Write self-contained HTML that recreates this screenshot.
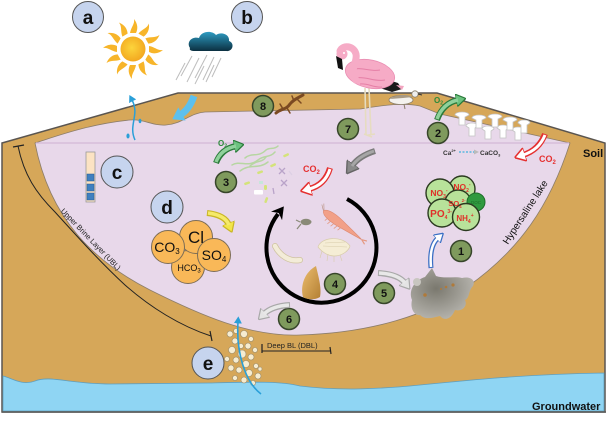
<!DOCTYPE html>
<html><head><meta charset="utf-8">
<style>
html,body{margin:0;padding:0;background:#fff;width:611px;height:421px;overflow:hidden;}
svg{display:block;}
text{font-family:"Liberation Sans",Arial,sans-serif;}
</style></head><body>
<svg width="611" height="421" viewBox="0 0 611 421" xmlns="http://www.w3.org/2000/svg">
<defs>
<radialGradient id="gSun" cx="0.45" cy="0.45" r="0.6"><stop offset="0" stop-color="#fcd43c"/><stop offset="1" stop-color="#f2a51e"/></radialGradient>
<linearGradient id="gCloud" x1="0" y1="0" x2="0" y2="1"><stop offset="0" stop-color="#2e9cc2"/><stop offset="1" stop-color="#0b2f40"/></linearGradient>
<radialGradient id="gMat" cx="0.4" cy="0.4" r="0.7"><stop offset="0" stop-color="#7a786e"/><stop offset="1" stop-color="#bcbab4"/></radialGradient>
<linearGradient id="gShell" x1="0" y1="0" x2="1" y2="1"><stop offset="0" stop-color="#ecbd6e"/><stop offset="1" stop-color="#b37f33"/></linearGradient>
<marker id="mG" viewBox="0 0 10 10" refX="2" refY="5" markerWidth="10" markerHeight="13" markerUnits="userSpaceOnUse" orient="auto" preserveAspectRatio="none"><path d="M0,0 L10,5 L0,10 z" fill="#6cc27f" stroke="#2a7a3a" stroke-width="1"/></marker>
<marker id="mR" viewBox="0 0 10 10" refX="2" refY="5" markerWidth="11" markerHeight="14" markerUnits="userSpaceOnUse" orient="auto" preserveAspectRatio="none"><path d="M0,0 L10,5 L0,10 z" fill="#fff" stroke="#e53030" stroke-width="1.2"/></marker>
<marker id="mK" viewBox="0 0 10 10" refX="2" refY="5" markerWidth="12" markerHeight="15" markerUnits="userSpaceOnUse" orient="auto" preserveAspectRatio="none"><path d="M0,0 L10,5 L0,10 z" fill="#8a8a8a" stroke="#666" stroke-width="1"/></marker>
<marker id="mY" viewBox="0 0 10 10" refX="2" refY="5" markerWidth="10" markerHeight="13" markerUnits="userSpaceOnUse" orient="auto" preserveAspectRatio="none"><path d="M0,0 L10,5 L0,10 z" fill="#f2e54a" stroke="#c9b626" stroke-width="1"/></marker>
<marker id="mL" viewBox="0 0 10 10" refX="2" refY="5" markerWidth="10" markerHeight="13" markerUnits="userSpaceOnUse" orient="auto" preserveAspectRatio="none"><path d="M0,0 L10,5 L0,10 z" fill="#e4e4e4" stroke="#a8a8a8" stroke-width="1"/></marker>
<marker id="mBo" viewBox="0 0 10 10" refX="2" refY="5" markerWidth="9" markerHeight="11" markerUnits="userSpaceOnUse" orient="auto" preserveAspectRatio="none"><path d="M0,0 L10,5 L0,10 z" fill="#fff" stroke="#3a6fc4" stroke-width="1.2"/></marker>
<marker id="mB" viewBox="0 0 10 10" refX="2" refY="5" markerWidth="11" markerHeight="15" markerUnits="userSpaceOnUse" orient="auto" preserveAspectRatio="none"><path d="M0,0 L10,5 L0,10 z" fill="#5cc0ee"/></marker>
<marker id="mBlk" viewBox="0 0 10 10" refX="2" refY="5" markerWidth="12" markerHeight="14" markerUnits="userSpaceOnUse" orient="auto" preserveAspectRatio="none"><path d="M0,0 L10,5 L0,10 L3,5 z" fill="#000"/></marker>
<marker id="mT" viewBox="0 0 10 10" refX="2" refY="5" markerWidth="7" markerHeight="8" markerUnits="userSpaceOnUse" orient="auto" preserveAspectRatio="none"><path d="M0,0 L10,5 L0,10 z" fill="#2a9fd8"/></marker>
</defs>
<rect width="611" height="421" fill="#fff"/>

<!-- soil -->
<path d="M2,143 L178,93 L437,93 L605,143 L605,412 L2,412 Z" fill="#d6a759" stroke="#5a5550" stroke-width="1.5"/>
<!-- lake -->
<path d="M35,143 C60,135 90,124 130,120 C145,119 152,126 166,125 C182,124 190,113 205,112 L360,109 C380,106 400,102 420,106 L440,114 L570,143 C550,205 520,250 467,287 C430,315 370,333 300,335 C250,337 200,315 150,290 C95,262 50,220 35,143 Z" fill="#e8d8ea" stroke="#8c7d6a" stroke-width="0.8"/>
<line x1="36" y1="143" x2="569" y2="143" stroke="#d3b7d6" stroke-width="1.2"/>
<!-- groundwater -->
<path d="M3,376 C12,378 22,386 35,381 C50,375 70,384 110,384 L210,383 C250,382 280,381 300,386 C340,391 380,389 420,385 C470,380 530,374 604,373 L604,411 L3,411 Z" fill="#8fd5f3" stroke="#5f9fbf" stroke-width="0.8"/>
<line x1="2" y1="412" x2="606" y2="412" stroke="#5a5a5a" stroke-width="1.5"/>

<!-- sun -->
<g transform="translate(133,49)">
<g fill="#f7b52a">
<path d="M-3,-16 C-2,-22 2,-25 1,-30 C5,-25 5,-20 3,-16 Z"/>
<path transform="rotate(30)" d="M-3,-16 C-2,-22 2,-25 1,-30 C5,-25 5,-20 3,-16 Z"/>
<path transform="rotate(60)" d="M-3,-16 C-2,-22 2,-25 1,-30 C5,-25 5,-20 3,-16 Z"/>
<path transform="rotate(90)" d="M-3,-16 C-2,-22 2,-25 1,-30 C5,-25 5,-20 3,-16 Z"/>
<path transform="rotate(120)" d="M-3,-16 C-2,-22 2,-25 1,-30 C5,-25 5,-20 3,-16 Z"/>
<path transform="rotate(150)" d="M-3,-16 C-2,-22 2,-25 1,-30 C5,-25 5,-20 3,-16 Z"/>
<path transform="rotate(180)" d="M-3,-16 C-2,-22 2,-25 1,-30 C5,-25 5,-20 3,-16 Z"/>
<path transform="rotate(210)" d="M-3,-16 C-2,-22 2,-25 1,-30 C5,-25 5,-20 3,-16 Z"/>
<path transform="rotate(240)" d="M-3,-16 C-2,-22 2,-25 1,-30 C5,-25 5,-20 3,-16 Z"/>
<path transform="rotate(270)" d="M-3,-16 C-2,-22 2,-25 1,-30 C5,-25 5,-20 3,-16 Z"/>
<path transform="rotate(300)" d="M-3,-16 C-2,-22 2,-25 1,-30 C5,-25 5,-20 3,-16 Z"/>
<path transform="rotate(330)" d="M-3,-16 C-2,-22 2,-25 1,-30 C5,-25 5,-20 3,-16 Z"/>
</g>
<circle r="12.5" fill="url(#gSun)"/>
</g>

<!-- cloud & rain -->
<path d="M190,48 C186,42 192,36 199,38 C201,31 212,30 216,35 C222,31 230,35 229,41 C235,43 233,52 226,51 L195,51 C191,51 189,50 190,48 Z" fill="url(#gCloud)"/>
<g stroke="#bdbdbd" stroke-width="1">
<line x1="207" y1="55" x2="195" y2="78"/><line x1="214" y1="57" x2="203" y2="80"/><line x1="221" y1="58" x2="212" y2="77"/>
<line x1="199" y1="58" x2="187" y2="82"/><line x1="192" y1="56" x2="181" y2="76"/><line x1="185" y1="63" x2="176" y2="80"/>
<line x1="204" y1="66" x2="195" y2="84"/><line x1="214" y1="65" x2="206" y2="82"/>
</g>

<!-- a b circles -->
<g stroke="#555" stroke-width="1" fill="#c6d4ee">
<circle cx="88" cy="17" r="15.5"/><circle cx="247" cy="17" r="15.5"/>
<circle cx="117" cy="172" r="16"/><circle cx="167" cy="207" r="16"/><circle cx="208" cy="363" r="16"/>
</g>
<g font-size="19" font-weight="bold" text-anchor="middle" fill="#111">
<text x="88" y="24">a</text><text x="247" y="24">b</text><text x="117" y="179">c</text><text x="167" y="214">d</text><text x="208" y="370">e</text>
</g>

<!-- evaporation -->
<path d="M135,140 C128,125 140,115 132,100" fill="none" stroke="#2a9fd8" stroke-width="1.5" marker-end="url(#mT)"/>
<ellipse cx="128" cy="136" rx="1.6" ry="2.5" fill="#2a9fd8"/>
<ellipse cx="140" cy="121" rx="1.4" ry="2.2" fill="#2a9fd8"/>
<!-- rain arrow -->
<path d="M194,96 Q189,110 180,115" fill="none" stroke="#5cc0ee" stroke-width="7" marker-end="url(#mB)"/>

<!-- lizard -->
<g stroke="#7b4a22" stroke-linecap="round" fill="none">
<path d="M276,113 C282,108 286,110 290,104 C294,99 298,98 303,95" stroke-width="3"/>
<path d="M283,109 L280,104 M287,108 L290,113 M294,101 L292,96 M297,99 L301,103" stroke-width="1.5"/>
</g>
<circle cx="263" cy="106" r="10.5" fill="#7f9a5d" stroke="#37452a" stroke-width="1.5"/>

<!-- flamingo -->
<g>
<line x1="365" y1="88" x2="366" y2="135" stroke="#e6dcc0" stroke-width="1.6"/>
<line x1="369" y1="88" x2="371" y2="135" stroke="#e6dcc0" stroke-width="1.6"/>
<path d="M364,134 L372,137 M368,135 L375,134" stroke="#e6dcc0" stroke-width="1.5"/>
<path d="M382,78 L398,83 L402,89 L392,92 L380,88 Z" fill="#1a1a1a"/>
<path d="M396,85 L404,86 L402,90 Z" fill="#f3a5c0"/>
<ellipse cx="370" cy="74" rx="25" ry="14" transform="rotate(12 370 74)" fill="#f6abc6" stroke="#e98db2" stroke-width="0.8"/>
<path d="M352,70 C360,66 370,72 380,70 M356,78 C366,76 374,82 385,80 M360,84 C368,83 374,88 382,87" stroke="#e57fa6" stroke-width="1" fill="none"/>
<path d="M356,80 C348,72 358,62 356,54 C354,46 343,44 340,51" fill="none" stroke="#f6abc6" stroke-width="7" stroke-linecap="round"/>
<circle cx="342" cy="54" r="5.5" fill="#f6abc6"/>
<path d="M336,56 L342,59 L343,70 L338,68 Z" fill="#111"/>
<circle cx="344" cy="53" r="1" fill="#fff"/>
</g>
<!-- shorebird -->
<g>
<line x1="404" y1="104" x2="405" y2="109" stroke="#8a7e6a" stroke-width="1"/>
<ellipse cx="401" cy="100" rx="12" ry="4.5" fill="#f4f2ee" stroke="#8a7e6a" stroke-width="0.8"/>
<path d="M390,99 C396,94 408,94 413,97 L403,98 Z" fill="#a89a84"/>
<circle cx="415" cy="94" r="3.2" fill="#eee" stroke="#8a7e6a" stroke-width="0.8"/>
<line x1="418" y1="94" x2="422" y2="95" stroke="#333" stroke-width="1"/>
</g>

<!-- crystals -->
<g fill="#fff" stroke="#c4c4c4" stroke-width="0.8">
<path transform="translate(472,130)" d="M-6,-4 C-6,-8 6,-8 6,-4 L3,-2 L3,6 L-3,6 L-3,-2 Z"/>
<path transform="translate(488,133)" d="M-6,-4 C-6,-8 6,-8 6,-4 L3,-2 L3,6 L-3,6 L-3,-2 Z"/>
<path transform="translate(503,132)" d="M-6,-4 C-6,-8 6,-8 6,-4 L3,-2 L3,6 L-3,6 L-3,-2 Z"/>
<path transform="translate(518,134)" d="M-6,-4 C-6,-8 6,-8 6,-4 L3,-2 L3,6 L-3,6 L-3,-2 Z"/>
<path transform="translate(462,119)" d="M-7,-4 C-7,-8 7,-8 7,-4 L3,-2 L3,6 L-3,6 L-3,-2 Z"/>
<path transform="translate(479,122)" d="M-7,-4 C-7,-8 7,-8 7,-4 L3,-2 L3,6 L-3,6 L-3,-2 Z"/>
<path transform="translate(495,121)" d="M-7,-4 C-7,-8 7,-8 7,-4 L3,-2 L3,6 L-3,6 L-3,-2 Z"/>
<path transform="translate(510,124)" d="M-7,-4 C-7,-8 7,-8 7,-4 L3,-2 L3,6 L-3,6 L-3,-2 Z"/>
<path transform="translate(524,127)" d="M-6,-4 C-6,-8 6,-8 6,-4 L3,-2 L3,6 L-3,6 L-3,-2 Z"/>
</g>

<!-- green O2 arrows -->
<path d="M216,163 Q221,149 236,146" fill="none" stroke="#2a7a3a" stroke-width="6" marker-end="url(#mG)"/>
<path d="M216,162 Q221,149 236,146" fill="none" stroke="#8fd19b" stroke-width="3.5"/>
<text x="218" y="146" font-size="8" font-weight="bold" fill="#2a8a3a">O<tspan font-size="5" dy="1.5">2</tspan></text>
<path d="M437,120 Q443,103 458,100" fill="none" stroke="#2a7a3a" stroke-width="6" marker-end="url(#mG)"/>
<path d="M437,119 Q443,103 458,100" fill="none" stroke="#8fd19b" stroke-width="3.5"/>
<text x="434" y="103" font-size="8" font-weight="bold" fill="#2a8a3a">O<tspan font-size="5" dy="1.5">2</tspan></text>

<!-- Ca text -->
<text x="443" y="155" font-size="6.5" font-weight="bold" fill="#333">Ca<tspan font-size="4" dy="-3">2+</tspan></text>
<line x1="459" y1="152" x2="474" y2="152" stroke="#5cb8e0" stroke-width="1.5" stroke-dasharray="2,1.5"/>
<path d="M474,149.5 L479,152 L474,154.5 Z" fill="#bbb"/>
<text x="480" y="155" font-size="6.5" font-weight="bold" fill="#333">CaCO<tspan font-size="4" dy="1.5">3</tspan></text>

<!-- red CO2 arrows -->
<path d="M545,134 Q539,150 523,155" fill="none" stroke="#e53030" stroke-width="6" marker-end="url(#mR)"/>
<path d="M545,135 Q539,150 523,155" fill="none" stroke="#fff" stroke-width="3"/>
<text x="539" y="162" font-size="9" font-weight="bold" fill="#e53030">CO<tspan font-size="6" dy="2">2</tspan></text>
<path d="M330,168 Q325,185 309,189" fill="none" stroke="#e53030" stroke-width="6" marker-end="url(#mR)"/>
<path d="M330,169 Q325,185 309,189" fill="none" stroke="#fff" stroke-width="3"/>
<text x="303" y="172" font-size="9" font-weight="bold" fill="#e53030">CO<tspan font-size="6" dy="2">2</tspan></text>

<!-- gray arrow 7 -->
<path d="M375,151 Q359,156 352,166" fill="none" stroke="#7a7a7a" stroke-width="6" marker-end="url(#mK)"/>
<path d="M374,151 Q359,156 352,166" fill="none" stroke="#a6a6a6" stroke-width="3"/>

<!-- numbered circles -->
<g fill="#7f9a5d" stroke="#37452a" stroke-width="1.5">
<circle cx="348" cy="129" r="10.5"/><circle cx="438" cy="133" r="10.5"/><circle cx="226" cy="182" r="10.5"/>
<circle cx="461" cy="251" r="10.5"/><circle cx="335" cy="284" r="10.5"/><circle cx="384" cy="293" r="10.5"/><circle cx="289" cy="319" r="10.5"/>
</g>
<g font-size="11" font-weight="bold" text-anchor="middle" fill="#111">
<text x="263" y="110">8</text><text x="348" y="133">7</text><text x="438" y="137">2</text><text x="226" y="186">3</text>
<text x="461" y="255">1</text><text x="335" y="288">4</text><text x="384" y="297">5</text><text x="289" y="323">6</text>
</g>

<!-- microbes near 3 -->
<g fill="none" stroke="#b7d6a2" stroke-width="1.5" stroke-linecap="round">
<path d="M232,165 C240,160 248,168 258,160 C264,155 270,158 275,152"/>
<path d="M240,171 C250,163 258,170 268,162"/>
<path d="M245,158 C252,152 258,158 266,150 C270,147 274,150 278,146"/>
<path d="M250,166 C256,160 262,163 266,157"/>
</g>
<g fill="#d4e37a">
<rect x="283" y="154" width="6" height="2.5" rx="1.2" transform="rotate(-25 286 155)"/>
<rect x="270" y="164" width="6" height="2.5" rx="1.2" transform="rotate(-25 273 165)"/>
<rect x="257" y="171" width="6" height="2.5" rx="1.2" transform="rotate(-20 260 172)"/>
<rect x="244" y="182" width="6" height="2.5" rx="1.2" transform="rotate(-20 247 183)"/>
<rect x="264" y="185" width="3" height="5" rx="1.2"/>
<rect x="265" y="197" width="2.5" height="6" rx="1.2" transform="rotate(20 266 200)"/>
</g>
<g stroke="#b9a3c9" stroke-width="1.3">
<path d="M279,168 L285,174 M285,168 L279,174"/>
<path d="M281,180 L287,186 M287,180 L281,186"/>
<path d="M289,171 L292,175" stroke="#ddd0e4"/>
<line x1="273" y1="188" x2="274" y2="194"/>
</g>
<rect x="254" y="190" width="9" height="4.5" rx="1" fill="#fff"/>
<rect x="259" y="181" width="4" height="3" fill="#c7e6dc"/>

<!-- circular arrow -->
<path d="M347,199 A55,55 0 1 1 278,214" fill="none" stroke="#000" stroke-width="4" marker-end="url(#mBlk)"/>

<!-- creatures -->
<g transform="translate(341,224) rotate(37)">
<path d="M-22,0 C-20,-5 -8,-5 4,-3 C12,-2 20,-1 26,0 C20,1 12,2 4,3 C-8,5 -20,5 -22,0 Z" fill="#f2a088" stroke="#de8a72" stroke-width="0.6"/>
<path d="M26,0 L31,-2 M26,0 L31,2" stroke="#e59880" stroke-width="1.2"/>
<path d="M-14,3 L-15,7 M-10,4 L-11,8 M-6,4 L-7,8 M-2,4 L-3,8 M2,3 L1,7" stroke="#e59880" stroke-width="0.8"/>
<path d="M-22,0 L-27,-4 M-22,-1 L-26,-6" stroke="#b89080" stroke-width="0.6"/>
</g>
<ellipse cx="306" cy="222" rx="5.5" ry="3.2" fill="#8a8a78"/>
<path d="M301,224 L297,229 M300,222 L296,220" stroke="#8a8a78" stroke-width="1.2"/>
<path d="M318,247 C321,237 342,235 350,246 C349,250 343,256 334,256 C328,256 322,252 318,247 Z" fill="#f5edd5" stroke="#d8ccaa" stroke-width="0.7"/>
<path d="M322,251 L320,258 M328,254 L327,261 M334,256 L334,262 M340,255 L342,261 M325,243 L345,242 M323,246 L347,247" stroke="#d8ccaa" stroke-width="0.6"/>
<path d="M275,246 C280,256 290,262 300,260" fill="none" stroke="#cfc3a0" stroke-width="6" stroke-linecap="round"/>
<path d="M275,246 C280,256 290,262 300,260" fill="none" stroke="#f3ecd8" stroke-width="4.5" stroke-linecap="round"/>
<path d="M303,297 C300,285 305,272 316,266 C318,275 322,288 320,297 C315,300 308,300 303,297 Z" fill="url(#gShell)"/>

<!-- ions -->
<g fill="#f9b858" stroke="#7d6d55" stroke-width="1">
<circle cx="188" cy="267" r="16.5"/><circle cx="196" cy="237" r="16.5"/><circle cx="168" cy="247" r="16.5"/><circle cx="214" cy="255" r="16.5"/>
</g>
<g fill="#111" text-anchor="middle">
<text x="189" y="271" font-size="9">HCO<tspan font-size="6" dy="1.5">3</tspan></text>
<text x="196" y="243" font-size="17">Cl</text>
<text x="167" y="252" font-size="14">CO<tspan font-size="8" dy="2">3</tspan></text>
<text x="214" y="260" font-size="14">SO<tspan font-size="8" dy="2">4</tspan></text>
</g>
<!-- yellow arrow -->
<path d="M207,213 Q225,215 229,225" fill="none" stroke="#c9b626" stroke-width="6" marker-end="url(#mY)"/>
<path d="M208,213 Q225,215 229,225" fill="none" stroke="#f5ea6a" stroke-width="3.5"/>

<!-- column c -->
<rect x="86" y="152" width="9" height="50" fill="#fce3c3" stroke="#9a9a9a" stroke-width="0.8"/>
<g fill="#3f80c0" stroke="#2a5a90" stroke-width="0.5">
<rect x="87" y="174" width="7" height="7"/><rect x="87" y="184" width="7" height="7"/><rect x="87" y="193" width="7" height="7"/>
</g>

<!-- nutrients -->
<g fill="#b8e29a" stroke="#2b3a20" stroke-width="1.4">
<circle cx="462" cy="189" r="13"/><circle cx="440" cy="193" r="14"/><circle cx="458" cy="203" r="13"/>
</g>
<circle cx="476" cy="202" r="9" fill="#2f9a3f" stroke="#1e6e2a" stroke-width="1"/>
<text x="476" y="204" font-size="4.5" fill="#1e6e2a" text-anchor="middle">DOC</text>
<g fill="#b8e29a" stroke="#2b3a20" stroke-width="1.4">
<circle cx="442" cy="213" r="14"/><circle cx="466" cy="217" r="13.5"/>
</g>
<g font-weight="bold" fill="#e0302a" text-anchor="middle" font-size="8.5">
<text x="439" y="196">NO<tspan font-size="5" dy="2">3</tspan><tspan font-size="5" dy="-6">-</tspan></text>
<text x="462" y="190">NO<tspan font-size="5" dy="2">2</tspan><tspan font-size="5" dy="-6">-</tspan></text>
<text x="457" y="206" font-size="7.5">SO<tspan font-size="4.5" dy="2">4</tspan><tspan font-size="4.5" dy="-6">2-</tspan></text>
<text x="441" y="217" font-size="10">PO<tspan font-size="5" dy="2">4</tspan><tspan font-size="5" dy="-6">3-</tspan></text>
<text x="465" y="221" font-size="8">NH<tspan font-size="5" dy="2">4</tspan><tspan font-size="5" dy="-6">+</tspan></text>
</g>

<!-- arrow 1 -->
<path d="M431,268 Q429,246 438,238" fill="none" stroke="#3a6fc4" stroke-width="5" marker-end="url(#mBo)"/>
<path d="M431,267 Q429,246 438,238" fill="none" stroke="#fff" stroke-width="2.5"/>

<!-- microbial mat -->
<path d="M412,300 C408,290 415,280 425,277 L432,268 L436,276 C445,279 455,276 462,278 C470,276 476,280 473,286 C468,291 470,298 465,300 C468,306 462,312 455,310 C452,318 445,322 440,316 C432,318 425,320 420,315 C414,316 410,308 412,300 Z" fill="url(#gMat)"/>
<circle cx="417" cy="282" r="4" fill="#c8c6c0"/>
<g fill="#b07a3a"><circle cx="425" cy="295" r="1.8"/><circle cx="446" cy="287" r="1.3"/><circle cx="453" cy="285" r="1.6"/><circle cx="441" cy="289" r="1"/></g>

<!-- arrows 5, 6 -->
<path d="M378,273 Q398,274 405,283" fill="none" stroke="#a8a8a8" stroke-width="6" marker-end="url(#mL)"/>
<path d="M379,273 Q398,274 405,283" fill="none" stroke="#e8e8e8" stroke-width="3.5"/>
<path d="M290,305 Q272,306 264,314" fill="none" stroke="#a8a8a8" stroke-width="6" marker-end="url(#mL)"/>
<path d="M289,305 Q272,306 264,314" fill="none" stroke="#e8e8e8" stroke-width="3.5"/>

<!-- bubbles -->
<g fill="#f6ecd0" stroke="#9a8c6c" stroke-width="0.6">
<circle cx="230" cy="334" r="3"/><circle cx="236" cy="331" r="2.5"/><circle cx="244" cy="334" r="3.5"/><circle cx="251" cy="339" r="2.5"/>
<circle cx="235" cy="341" r="3"/><circle cx="241" cy="346" r="2.5"/><circle cx="248" cy="346" r="3"/><circle cx="255" cy="350" r="2.5"/>
<circle cx="232" cy="350" r="3.5"/><circle cx="242" cy="354" r="4"/><circle cx="251" cy="357" r="3"/><circle cx="236" cy="360" r="3"/>
<circle cx="246" cy="364" r="3.5"/><circle cx="256" cy="366" r="2.5"/><circle cx="231" cy="368" r="3"/><circle cx="239" cy="370" r="3"/>
<circle cx="249" cy="373" r="3.5"/><circle cx="258" cy="376" r="3"/><circle cx="235" cy="378" r="2.5"/><circle cx="244" cy="380" r="3"/>
<circle cx="253" cy="383" r="2.5"/><circle cx="260" cy="369" r="2"/><circle cx="227" cy="359" r="2.5"/>
</g>
<path d="M261,394 C245,382 236,352 238,322" fill="none" stroke="#2a9fd8" stroke-width="1.6" marker-end="url(#mT)"/>

<!-- UBL -->
<path d="M18,146 C24,175 36,193 55,212 C75,234 100,262 125,285 C150,307 180,326 211,336" fill="none" stroke="#222" stroke-width="1"/>
<line x1="13" y1="147" x2="24" y2="145" stroke="#222" stroke-width="1.2"/>
<line x1="210" y1="331" x2="212" y2="341" stroke="#222" stroke-width="1.2"/>
<text transform="translate(89,241) rotate(46)" font-size="7.5" text-anchor="middle" fill="#222">Upper Brine Layer (UBL)</text>

<!-- DBL -->
<text x="267" y="348" font-size="7.5" fill="#222">Deep BL (DBL)</text>
<line x1="262" y1="351" x2="330" y2="351" stroke="#222" stroke-width="1"/>
<line x1="262" y1="344" x2="262" y2="353" stroke="#222" stroke-width="1.2"/>
<line x1="330" y1="347" x2="331" y2="354" stroke="#222" stroke-width="1.2"/>

<!-- labels -->
<text transform="translate(528,214) rotate(-57)" font-size="10" text-anchor="middle" fill="#111">Hypersaline lake</text>
<text x="583" y="157" font-size="11" font-weight="bold" fill="#111">Soil</text>
<text x="532" y="410" font-size="11" font-weight="bold" fill="#111">Groundwater</text>
</svg>
</body></html>
